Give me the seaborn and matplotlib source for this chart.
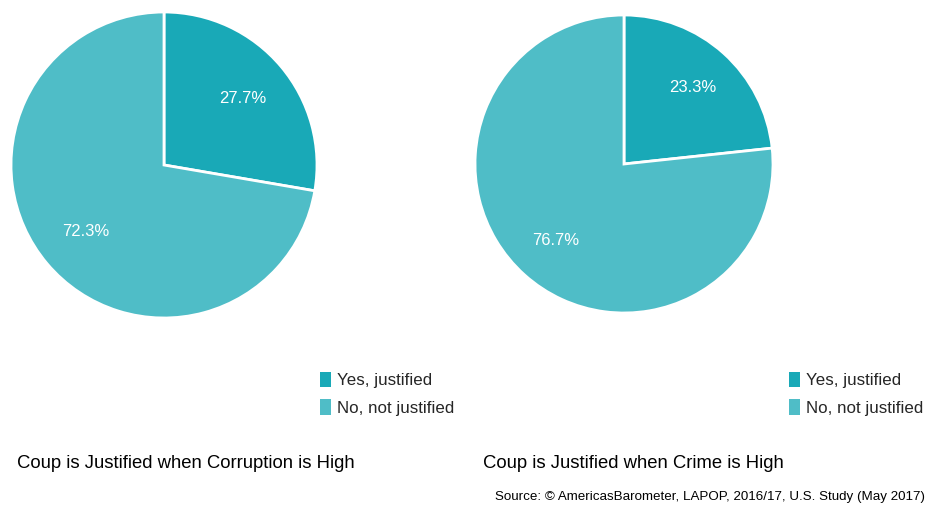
import matplotlib
matplotlib.use("Agg")
import matplotlib.pyplot as plt
import seaborn as sns
from matplotlib.patches import Patch

sns.set_theme(style="white")
plt.rcParams['font.family'] = ['Liberation Sans', 'DejaVu Sans']

categories = ["Yes, justified", "No, not justified"]
corruption_values = [27.7, 72.3]
crime_values = [23.3, 76.7]
titles = ["Coup is Justified when Corruption is High", "Coup is Justified when Crime is High"]
source = "Source: \u00a9 AmericasBarometer, LAPOP, 2016/17, U.S. Study (May 2017)"
colors = sns.color_palette(["#19a9b7", "#4fbdc7"])

W, H = 927, 508
fig = plt.figure(figsize=(W / 100, H / 100), dpi=100)

def px_axes(x0, y0top, w, h):
    return fig.add_axes([x0 / W, (H - y0top - h) / H, w / W, h / H])

pies = [
    (corruption_values, (11, 12, 306, 306), 0.67),
    (crime_values, (475, 15, 298, 298), 0.69),
]
for vals, box, pd in pies:
    ax = px_axes(*box)
    ax.pie(vals, colors=colors, startangle=90, counterclock=False,
           autopct=lambda p: f"{p:.1f}%", pctdistance=pd,
           wedgeprops=dict(edgecolor="white", linewidth=2),
           textprops=dict(color="white", fontsize=12))
    ax.set_xlim(-1, 1)
    ax.set_ylim(-1, 1)
    ax.set_aspect("equal")
    ax.axis("off")

handles = [Patch(facecolor=c, edgecolor="none") for c in colors]
for lx in (320, 789):
    fig.legend(handles, categories, loc="upper left",
               bbox_to_anchor=(lx / W, (H - 372) / H), frameon=False,
               fontsize=12.2, handlelength=0.65, handleheight=1.0,
               handletextpad=0.35, labelspacing=0.65, borderaxespad=0, borderpad=0)

fig.text(17 / W, (H - 464) / H, titles[0], fontsize=13.3, va="center", ha="left", color="black")
fig.text(483 / W, (H - 464) / H, titles[1], fontsize=13.3, va="center", ha="left", color="black")
fig.text(925 / W, (H - 497) / H, source, fontsize=9.6, va="center", ha="right", color="black")

fig.savefig("out.png", dpi=100, facecolor="white")
